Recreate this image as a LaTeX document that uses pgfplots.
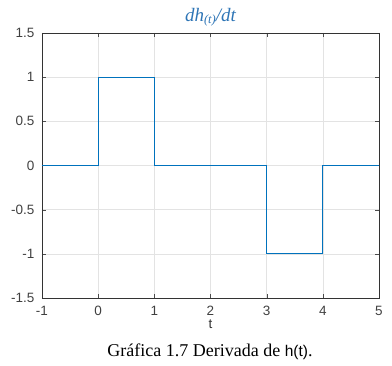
\documentclass[border=0pt]{standalone}
\usepackage{pgfplots}
\pgfplotsset{compat=1.18}
\usepackage{fontspec}
\setmainfont{Liberation Serif}
\newfontfamily\arial{Liberation Sans}
\definecolor{mblue}{RGB}{0,114,189}
\definecolor{tblue}{RGB}{46,117,182}
\begin{document}
\begin{tikzpicture}
\path[use as bounding box] (0,0) rectangle (392pt,366pt);
\begin{axis}[
  at={(42pt,68pt)}, anchor=south west,
  scale only axis, width=337pt, height=265pt,
  xmin=-1, xmax=5, ymin=-1.5, ymax=1.5,
  xtick={-1,0,...,5}, ytick={-1.5,-1,...,1.5},
  yticklabels={-1.5,-1,-0.5,0,0.5,1,1.5},
  grid=major,
  major grid style={gray!22, line width=0.5pt},
  tick align=inside, tick style={black!70},
  axis line style={black!80, line width=0.6pt},
  tick label style={font=\arial\fontsize{13.5}{15}\selectfont, text=black!75},
  xticklabel style={yshift=-5pt},
  yticklabel style={xshift=-4pt},
  /pgf/number format/assume math mode=true,
  xlabel={\arial\fontsize{13.5}{15}\selectfont t},
  xlabel style={yshift=3pt, text=black!80},
  title={\textcolor{tblue}{\fontsize{19}{21}\selectfont\itshape dh\raisebox{-2.5pt}{\fontsize{12.5}{13}\selectfont(t)}/dt}},
  title style={yshift=-3pt},
]
\addplot[mblue, line width=0.8pt] coordinates {(-1,0) (0,0) (0,1) (1,1) (1,0) (3,0) (3,-1) (4,-1) (4,0) (5,0)};
\end{axis}
\node[anchor=base] at (210pt,9pt) {\fontsize{18}{20}\selectfont Gráfica 1.7 Derivada de {\arial\fontsize{15.5}{18}\selectfont h(t)}.};
\end{tikzpicture}
\end{document}
